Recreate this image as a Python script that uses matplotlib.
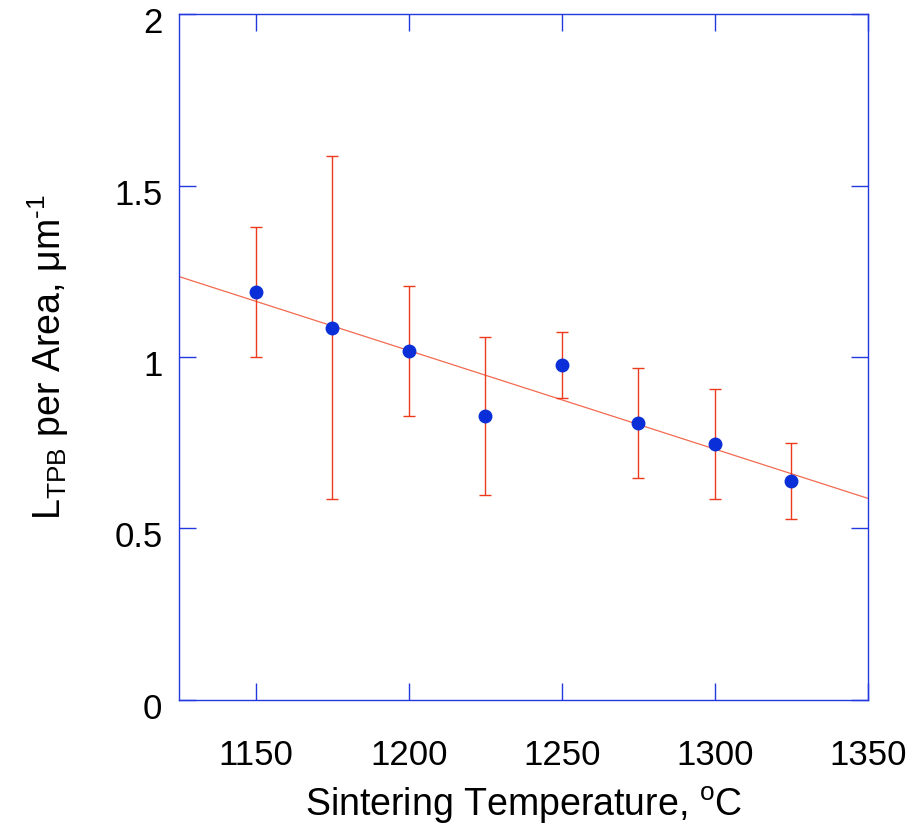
import numpy as np
import matplotlib
matplotlib.use("Agg")
import matplotlib.pyplot as plt
import matplotlib.transforms as mtransforms

plt.rcParams['font.family'] = ['Liberation Sans', 'DejaVu Sans']
plt.rcParams['mathtext.fontset'] = 'custom'
plt.rcParams['mathtext.rm'] = 'Liberation Sans'
plt.rcParams['mathtext.it'] = 'Liberation Sans:italic'

# Sintering temperature (°C) vs. triple-phase-boundary length per area
temperature = [1150, 1175, 1200, 1225, 1250, 1275, 1300, 1325]
ltpb = [1.19, 1.085, 1.017, 0.828, 0.977, 0.808, 0.746, 0.638]
ltpb_err = [0.19, 0.50, 0.19, 0.23, 0.097, 0.16, 0.16, 0.11]

x_ticks = [1150, 1200, 1250, 1300, 1350]
y_ticks = [0, 0.5, 1, 1.5, 2]
y_tick_labels = ['0', '0.5', '1', '1.5', '2']

axis_blue = '#2438e0'
err_red = '#ee3a1c'
fit_red = '#f26a50'
point_blue = '#0a2fd8'

fig = plt.figure(figsize=(9.21, 8.27), dpi=100)
ax = fig.add_axes([0.1944, 0.1536, 0.7481, 0.8294])

# least-squares linear fit over the measured points
coef = np.polyfit(temperature, ltpb, 1)
xf = np.array([1125, 1350])
ax.plot(xf, np.polyval(coef, xf), color=fit_red, lw=0.9, zorder=1)

ax.errorbar(temperature, ltpb, yerr=ltpb_err, fmt='none', ecolor=err_red,
            elinewidth=1.0, capsize=4, capthick=1.0, zorder=2)
ax.plot(temperature, ltpb, 'o', color=point_blue, ms=9, zorder=3)

ax.set_xlim(1125, 1350)
ax.set_ylim(0, 2)
ax.set_xticks(x_ticks)
ax.set_yticks(y_ticks)
ax.set_yticklabels(y_tick_labels)

for s in ax.spines.values():
    s.set_color(axis_blue)
    s.set_linewidth(1.0)
ax.tick_params(direction='in', length=12, width=1.0, color=axis_blue,
               top=True, right=True, labelsize=25)
ax.tick_params(axis='y', pad=12)
ax.tick_params(axis='x', pad=28)

# y tick labels sit slightly below their ticks
shift = mtransforms.ScaledTranslation(0, -6 / 100, fig.dpi_scale_trans)
for lbl in ax.get_yticklabels():
    lbl.set_transform(lbl.get_transform() + shift)

ax.set_xlabel('Sintering Temperature, $^{\\mathrm{o}}$C', fontsize=27)
ax.xaxis.set_label_coords(0.5, -0.123)
ax.set_ylabel('L$_{\\mathrm{TPB}}$ per Area, μm$^{\\text{-1}}$', fontsize=27)
ax.yaxis.set_label_coords(-0.157, 0.5)

fig.savefig('out.png', dpi=100)
